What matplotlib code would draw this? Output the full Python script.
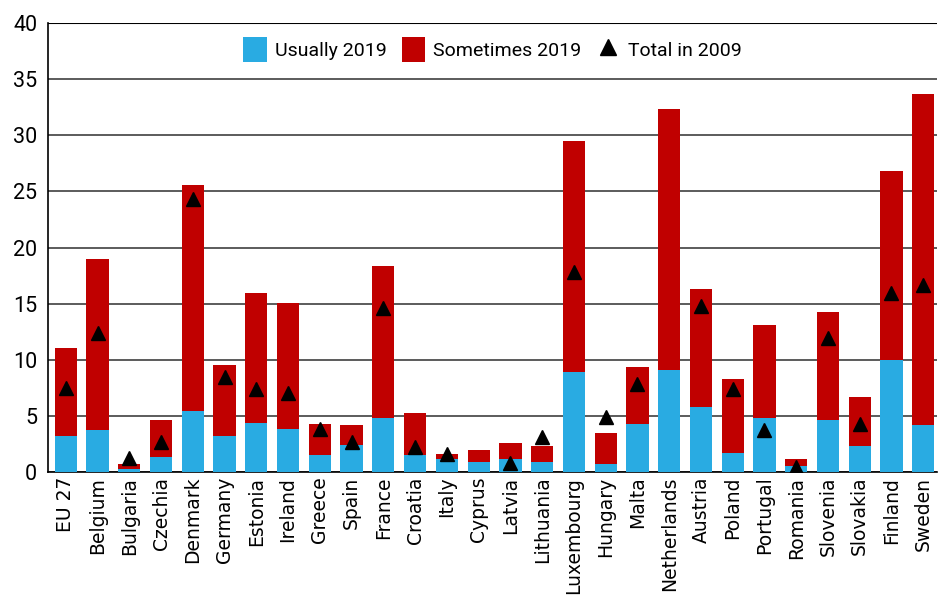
import matplotlib.pyplot as plt
import numpy as np

countries = ['EU 27', 'Belgium', 'Bulgaria', 'Czechia', 'Denmark', 'Germany', 'Estonia',
             'Ireland', 'Greece', 'Spain', 'France', 'Croatia', 'Italy', 'Cyprus', 'Latvia',
             'Lithuania', 'Luxembourg', 'Hungary', 'Malta', 'Netherlands', 'Austria', 'Poland',
             'Portugal', 'Romania', 'Slovenia', 'Slovakia', 'Finland', 'Sweden']

# share working from home usually in 2019
usually = [3.2, 3.7, 0.24, 1.34, 5.43, 3.2, 4.33, 3.83, 1.51, 2.43, 4.81, 1.51, 1.16, 0.86,
           1.16, 0.86, 8.88, 0.71, 4.3, 9.06, 5.76, 1.66, 4.81, 0.56, 4.63, 2.26, 10.0, 4.19]
# total (usually + sometimes) in 2019
total2019 = [11.07, 18.95, 0.68, 4.6, 25.57, 9.5, 15.95, 15.03, 4.3, 4.16, 18.32, 5.23, 1.63,
             1.96, 2.55, 2.26, 29.49, 3.5, 9.33, 32.34, 16.27, 8.26, 13.12, 1.16, 14.23, 6.65,
             26.82, 33.73]
# total in 2009 (None = no value)
total2009 = [7.5, 12.4, 1.22, 2.64, 24.35, 8.5, 7.36, 7.07, 3.8, 2.7, 14.64, 2.2, 1.57, None,
             0.77, 3.15, 17.79, 4.87, 7.84, None, 14.79, 7.39, 3.74, 0.47, 11.97, 4.25,
             15.92, 16.66]

sometimes = [t - u for t, u in zip(total2019, usually)]

fig = plt.figure(figsize=(9.38, 5.95), dpi=100)
ax = fig.add_axes([0.0515, 0.207, 0.947, 0.754])

x = np.arange(len(countries))
blue = '#29abe2'
red = '#c00000'

b1 = ax.bar(x, usually, width=0.7, color=blue, label='Usually 2019', zorder=3)
b2 = ax.bar(x, sometimes, width=0.7, bottom=usually, color=red, label='Sometimes 2019', zorder=3)

xs = [i for i in range(len(countries)) if total2009[i] is not None]
ys = [total2009[i] for i in xs]
tri, = ax.plot(xs, ys, linestyle='none', marker='^', markersize=10, color='black',
               label='Total in 2009', zorder=4)

ax.set_ylim(0, 40)
ax.set_xlim(-0.55, 27.42)
ax.set_yticks(range(0, 41, 5))
ax.yaxis.grid(True, color='#404040', linewidth=1.2, zorder=0)
ax.set_axisbelow(True)

ax.spines['right'].set_visible(False)
ax.spines['top'].set_visible(False)
ax.spines['left'].set_linewidth(1.2)
ax.spines['bottom'].set_linewidth(1.2)
ax.axhline(40, color='black', linewidth=1.5, zorder=1)

ax.set_xticks(x)
ax.set_xticklabels(countries, rotation=90, fontsize=13.5, family='DejaVu Sans')
ax.tick_params(axis='both', length=0)
ax.tick_params(axis='y', labelsize=15.5, pad=8)
for lab in ax.get_yticklabels():
    lab.set_family('Roboto')

ax.legend(handles=[b1, b2, tri], loc='upper center', bbox_to_anchor=(0.5, 1.008), ncol=3,
          frameon=False, prop={'family': 'Roboto', 'size': 14}, handlelength=1.2,
          handleheight=1.6, handletextpad=0.4, columnspacing=0.8, markerscale=1.1)

fig.savefig('out.png', dpi=100)
